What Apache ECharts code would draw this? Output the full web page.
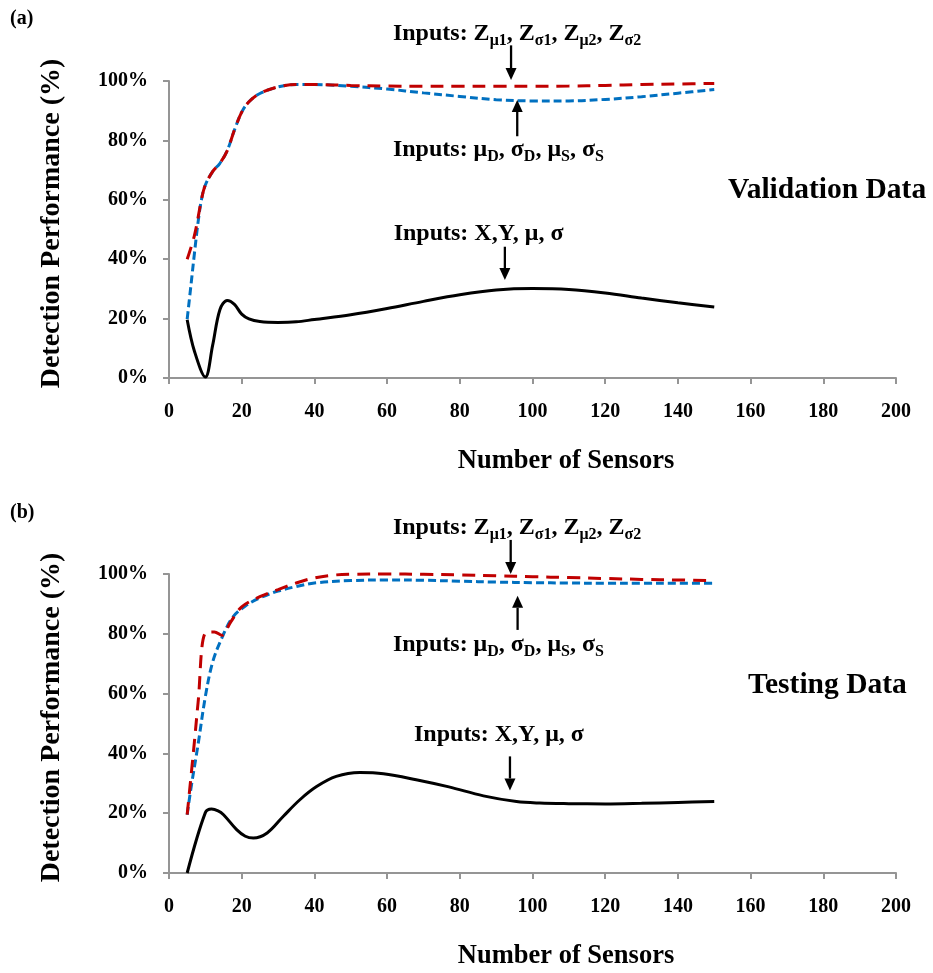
<!DOCTYPE html>
<html><head><meta charset="utf-8">
<script src="https://cdn.jsdelivr.net/npm/echarts@6/dist/echarts.min.js"></script>
<style>html,body{margin:0;padding:0;background:#fff}#c{width:933px;height:973px}</style>
</head><body><div id="c"></div>
<script>
const FONT = '"Liberation Serif","Times New Roman",serif';

// ---- Panel (a): Validation Data ----
const valXY_x  = [5, 7, 10, 12, 14, 16, 18, 20, 22, 25, 30, 35, 40, 50, 60, 70, 80, 90, 100, 110, 120, 130, 140, 150];
const valXY_y  = [19.6, 9, 0.3, 11, 23, 26.1, 24.8, 21.5, 19.9, 19, 18.7, 18.9, 19.7, 21.3, 23.4, 25.8, 28, 29.6, 30.1, 29.8, 28.6, 26.9, 25.3, 23.9];
const valMu_x  = [5, 6, 7, 8, 9, 10, 12, 14, 16, 18, 20, 22, 25, 30, 35, 40, 50, 60, 70, 80, 90, 100, 110, 120, 130, 140, 150];
const valMu_y  = [19.8, 30.8, 42, 52.5, 60.5, 65, 69.5, 72.3, 76.5, 83.5, 89.5, 93, 95.8, 98, 98.8, 98.8, 98.2, 97.3, 96, 94.8, 93.7, 93.3, 93.3, 93.8, 94.7, 95.9, 97.1];
const valZ_x   = [5, 7, 9, 10, 12, 14, 16, 18, 20, 22, 25, 30, 35, 40, 50, 60, 70, 80, 90, 100, 110, 120, 130, 140, 150];
const valZ_y   = [40, 48, 60.5, 65, 69.5, 72.3, 76.5, 83.5, 89.5, 93, 95.8, 98, 98.8, 98.8, 98.5, 98.3, 98.2, 98.2, 98.2, 98.2, 98.3, 98.5, 98.8, 99, 99.2];

// ---- Panel (b): Testing Data ----
const testXY_x = [5, 10, 11.7, 13.5, 15, 18.6, 21, 23.2, 27, 31.4, 36, 40.6, 46, 52.5, 59, 68, 77, 86.5, 95.6, 102, 110, 120, 130, 140, 150];
const testXY_y = [0, 20.2, 21.4, 20.8, 19.5, 14.5, 12.3, 11.7, 13.4, 18.9, 24.5, 28.9, 32.3, 33.6, 33.2, 31.2, 28.8, 25.8, 23.9, 23.4, 23.2, 23.1, 23.3, 23.6, 23.9];
const testMu_x = [5, 6, 8, 10, 12, 14.5, 17.5, 21, 25, 30, 35, 40, 50, 60, 70, 80, 90, 100, 110, 120, 130, 140, 150];
const testMu_y = [19.5, 28, 43, 59, 70.5, 78.5, 85.5, 89.3, 92, 94.3, 95.8, 97, 97.8, 98, 97.9, 97.6, 97.3, 97.1, 97, 96.9, 96.9, 96.9, 96.9];
const testZ_x  = [5, 7, 8, 10, 12.5, 14.5, 17, 20, 25, 30, 35, 40, 45, 50, 60, 70, 80, 90, 100, 110, 120, 130, 140, 150];
const testZ_y  = [19.5, 44, 57, 80.3, 80.6, 79.5, 84, 89, 92.4, 94.8, 97, 98.7, 99.6, 99.9, 100, 99.9, 99.7, 99.4, 99.1, 98.8, 98.5, 98.2, 98, 97.8];

// axes ticks
const xMin = 0, xMax = 200, xStep = 20;
const yMin = 0, yMax = 100, yStep = 20;

// annotations (data units of each panel)
const noteText = [
  'Inputs: Z{s|μ1}, Z{s|σ1}, Z{s|μ2}, Z{s|σ2}',
  'Inputs: μ{s|D}, σ{s|D}, μ{s|S}, σ{s|S}',
  'Inputs: X,Y, μ, σ'
];
const noteGrid = [0, 0, 0, 1, 1, 1];
const noteIdx  = [0, 1, 2, 0, 1, 2];
const noteX    = [61.6, 61.6, 61.8, 61.6, 61.6, 67.4];
const noteY    = [116, 76.7, 48.5, 115.4, 76.3, 46.2];
const arrowGrid = [0, 0, 0, 1, 1, 1];
const arrowX    = [94.1, 95.8, 92.4, 94, 95.9, 93.8];
const arrowFrom = [112, 81.4, 44.2, 111.4, 81.3, 39];
const arrowTip  = [100.3, 93.6, 33, 100, 92.7, 27.6];
const panelTitle = ['Validation Data', 'Testing Data'];
const panelTitleX = [153.8, 159.3];
const panelTitleY = [63.3, 62.6];

const zip = (xs, ys) => xs.map((x, i) => [x, ys[i]]);
const chart = echarts.init(document.getElementById('c'), null, {renderer: 'canvas'});

const grids = [
  {left: 169, right: 37, top: 81, height: 297},
  {left: 169, right: 37, top: 574, height: 299}
];
const axisCol = '#959595';
function xAx(i) {
  return {
    type: 'value', gridIndex: i, min: xMin, max: xMax, interval: xStep,
    axisLine: {show: true, lineStyle: {color: axisCol, width: 2}},
    axisTick: {show: true, length: 6, lineStyle: {color: axisCol, width: 2}},
    splitLine: {show: false},
    axisLabel: {margin: 24, color: '#000', fontFamily: FONT, fontWeight: 'bold', fontSize: 20},
    name: 'Number of Sensors', nameLocation: 'middle', nameGap: 70,
    nameTextStyle: {color: '#000', fontFamily: FONT, fontWeight: 'bold', fontSize: 26.5, padding: [0, 0, 0, 67]}
  };
}
function yAx(i) {
  return {
    type: 'value', gridIndex: i, min: yMin, max: yMax, interval: yStep,
    axisLine: {show: true, lineStyle: {color: axisCol, width: 2}},
    axisTick: {show: true, length: 6, lineStyle: {color: axisCol, width: 2}},
    splitLine: {show: false},
    axisLabel: {margin: 21, color: '#000', fontFamily: FONT, fontWeight: 'bold', fontSize: 20, formatter: '{value}%'},
    name: 'Detection Performance (%)', nameLocation: 'middle', nameGap: 103, nameRotate: 90,
    nameTextStyle: {color: '#000', fontFamily: FONT, fontWeight: 'bold', fontSize: 28, padding: [0, 0, 0, 12]}
  };
}
function line(i, data, color, type, w) {
  return {
    type: 'line', xAxisIndex: i, yAxisIndex: i, data: data, showSymbol: false, symbol: 'none',
    smooth: 0.35, clip: false, z: 3,
    lineStyle: {color: color, width: w, type: type, cap: 'butt'}
  };
}
const RED = '#C00000', BLUE = '#0070C0';
chart.setOption({
  animation: false,
  backgroundColor: '#fff',
  grid: grids,
  xAxis: [xAx(0), xAx(1)],
  yAxis: [yAx(0), yAx(1)],
  series: [
    line(0, zip(valXY_x, valXY_y), '#000', 'solid', 3),
    line(0, zip(valMu_x, valMu_y), BLUE, [8, 4], 3),
    line(0, zip(valZ_x, valZ_y), RED, [13, 8], 3),
    line(1, zip(testXY_x, testXY_y), '#000', 'solid', 3),
    line(1, zip(testMu_x, testMu_y), BLUE, [8, 4], 3),
    line(1, zip(testZ_x, testZ_y), RED, [13, 8], 3)
  ]
});

const gfx = [];
const px = (g, x, y) => chart.convertToPixel({gridIndex: g}, [x, y]);
for (let k = 0; k < noteX.length; k++) {
  const p = px(noteGrid[k], noteX[k], noteY[k]);
  gfx.push({
    type: 'text', x: p[0], y: p[1], z: 10,
    style: {
      text: noteText[noteIdx[k]], fill: '#000', fontFamily: FONT, fontWeight: 'bold', fontSize: 24,
      lineHeight: 30, align: 'left', verticalAlign: 'middle',
      rich: {s: {fontFamily: FONT, fontWeight: 'bold', fontSize: 16, lineHeight: 14, verticalAlign: 'bottom', fill: '#000'}}
    }
  });
}
for (let k = 0; k < arrowX.length; k++) {
  const a = px(arrowGrid[k], arrowX[k], arrowFrom[k]);
  const t = px(arrowGrid[k], arrowX[k], arrowTip[k]);
  const dir = t[1] > a[1] ? 1 : -1;
  const hl = 12, hw = 5.5;
  gfx.push({type: 'line', z: 10, shape: {x1: a[0], y1: a[1], x2: t[0], y2: t[1] - dir * hl},
    style: {stroke: '#000', lineWidth: 2.3}});
  gfx.push({type: 'polygon', z: 10, shape: {points: [[t[0], t[1]], [t[0] - hw, t[1] - dir * hl], [t[0] + hw, t[1] - dir * hl]]},
    style: {fill: '#000'}});
}
for (let k = 0; k < 2; k++) {
  const p = px(k, panelTitleX[k], panelTitleY[k]);
  gfx.push({type: 'text', x: p[0], y: p[1], z: 10,
    style: {text: panelTitle[k], fill: '#000', fontFamily: FONT, fontWeight: 'bold', fontSize: 29.5, align: 'left', verticalAlign: 'middle'}});
}
gfx.push({type: 'text', left: 10, top: 9, style: {text: '(a)', fill: '#000', fontFamily: FONT, fontWeight: 'bold', fontSize: 20}});
gfx.push({type: 'text', left: 10, top: 503, style: {text: '(b)', fill: '#000', fontFamily: FONT, fontWeight: 'bold', fontSize: 20}});
chart.setOption({graphic: gfx});
</script>
</body></html>
